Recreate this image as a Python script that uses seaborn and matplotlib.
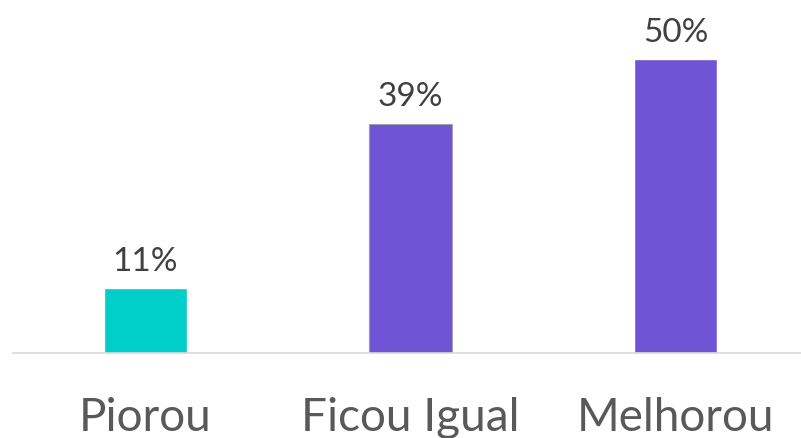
import pandas as pd
import matplotlib.pyplot as plt
import seaborn as sns

# Chart data
categories = ["Piorou", "Ficou Igual", "Melhorou"]
values = [11, 39, 50]
bar_colors = ["#00CFC9", "#6F55D6", "#6F55D6"]

df = pd.DataFrame({"categoria": categories, "valor": values})

sns.set_style("white")
plt.rcParams['font.family'] = ['Lato', 'DejaVu Sans']

fig = plt.figure(figsize=(8.01, 4.38), dpi=100)
ax = fig.add_axes([13 / 801, 85 / 438, 795 / 801, 353 / 438])

sns.barplot(data=df, x="categoria", y="valor", hue="categoria",
            palette=bar_colors, width=0.313, legend=False, ax=ax,
            saturation=1)

# thin gray edge on the middle bar
ax.patches[1].set_edgecolor("#A0A0A0")
ax.patches[1].set_linewidth(0.8)

ax.set_ylim(0, 60)
ax.set_xlim(-0.5, 2.5)

for p, v in zip(ax.patches, values):
    ax.annotate(f"{v}%", (p.get_x() + p.get_width() / 2, p.get_height()),
                xytext=(0, 8), textcoords="offset points",
                ha="center", va="bottom", fontsize=24, color="#404040")

ax.set_xlabel("")
ax.set_ylabel("")
ax.set_yticks([])
ax.tick_params(axis="x", length=0, pad=32, labelsize=33, labelcolor="#595959")
sns.despine(ax=ax, left=True, top=True, right=True)
ax.spines["bottom"].set_color("#D9D9D9")
ax.spines["bottom"].set_linewidth(1.2)

fig.savefig("out.png", dpi=100)
